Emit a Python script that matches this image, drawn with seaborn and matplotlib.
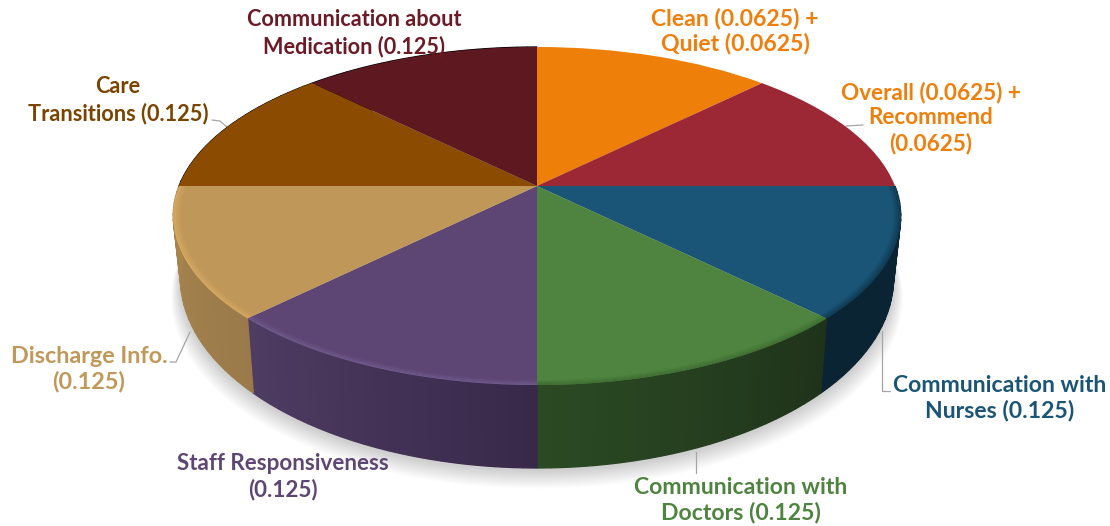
import numpy as np
import matplotlib
matplotlib.use("Agg")
import matplotlib.pyplot as plt
from matplotlib.transforms import Transform
import seaborn as sns

sns.set_theme(style="white")
plt.rcParams['font.family'] = ['Lato', 'DejaVu Sans']

# ---- data ----
segments = ["Clean + Quiet", "Overall + Recommend", "Communication with Nurses",
            "Communication with Doctors", "Staff Responsiveness", "Discharge Info.",
            "Care Transitions", "Communication about Medication"]
weights = [0.125, 0.125, 0.125, 0.125, 0.125, 0.125, 0.125, 0.125]
labels = ["Clean (0.0625) +\nQuiet (0.0625)",
          "Overall (0.0625) +\nRecommend\n(0.0625)",
          "Communication with\nNurses (0.125)",
          "Communication with\nDoctors (0.125)",
          "Staff Responsiveness\n(0.125)",
          "Discharge Info.\n(0.125)",
          "Care\nTransitions (0.125)",
          "Communication about\nMedication (0.125)"]
face_colors = ["#EE7F09", "#9C2735", "#1A5577", "#4E843F", "#5E4674", "#BF9758", "#8B4B00", "#5E181F"]
wall_left = ["#000000", "#000000", "#0A2433", "#2B4A24", "#4F3C62", "#A9864F", "#000000", "#000000"]
wall_right = ["#000000", "#000000", "#0A2433", "#1F331A", "#38294A", "#9A7A4A", "#000000", "#000000"]
rim_colors = ["#EE7F09", "#9C2735", "#0F3A52", "#3F6E33", "#6E5A8C", "#D6A860", "#8B4B00", "#5E181F"]
text_colors = ["#EF7F0A", "#EF7F0A", "#1A5577", "#4E843F", "#5E4674", "#C09859", "#7A4300", "#6B1A26"]
text_sizes = [16.6, 16.2, 16.6, 16.6, 16.1, 16.8, 15.7, 15.6]
text_pos = [(735, 31), (931, 118), (1000, 398), (741, 500), (283, 477), (89, 369), (118, 100), (354, 33)]
leaders = [None,
           [(846, 126), (863, 125)],
           [(882, 331), (882, 391), (890, 391)],
           [(696, 452), (696, 473)],
           None,
           [(170, 362), (176, 362), (190, 332)],
           [(212, 120), (220, 121), (227, 127)],
           None]

CX, CY = 537.0, 186.0
R, A, K = 358.0, 163.7, 0.1775
SX, HSLOPE, H0 = 0.98, 0.123, 58.5


def project(x, y):
    d = 1 + K * y
    return CX + R * x / d, CY - A * y / d


def bottom(px, py):
    return CX + SX * (px - CX), py + H0 + HSLOPE * (py - CY)


class Perspective(Transform):
    input_dims = output_dims = 2
    has_inverse = False

    def transform_non_affine(self, v):
        v = np.asarray(v)
        px, py = project(v[:, 0], v[:, 1])
        return np.column_stack([px, py])


fig, ax = plt.subplots(figsize=(11.10, 5.26), dpi=100)
fig.subplots_adjust(0, 0, 1, 1)
palette = sns.color_palette(face_colors)

wedges, _ = ax.pie(weights, colors=palette, startangle=90, counterclock=False, radius=1,
                   wedgeprops=dict(linewidth=0))
ax.set_aspect('auto')
ax.set_xlim(0, 1110)
ax.set_ylim(526, 0)
ax.axis('off')
tr = Perspective() + ax.transData
for w in wedges:
    w.set_transform(tr)
    w.set_zorder(5)
    w.set_clip_on(False)

# angular extents from the values
fr = np.array(weights) / np.sum(weights)
edges = 90 - 360 * np.concatenate([[0], np.cumsum(fr)])

# soft ground shadow
t = np.radians(np.linspace(0, 360, 241))
tx, ty = project(np.cos(t), np.sin(t))
bx, by = bottom(tx, ty)
for i in range(16, 0, -1):
    ax.fill(CX + (bx - CX) * (1 + i * 0.0016), by + i * 1.15 + 2, color="#404040", alpha=0.016, lw=0, zorder=1)

# side walls
for i in range(len(weights)):
    a0, a1 = edges[i], edges[i + 1]
    if a0 > 0 and a1 >= 0 or a1 >= 180:
        continue
    n = 24
    aa = np.linspace(a0, a1, n + 1)
    c0 = np.array(matplotlib.colors.to_rgb(wall_left[i]))
    c1 = np.array(matplotlib.colors.to_rgb(wall_right[i]))
    for j in range(n):
        th = np.radians(np.linspace(aa[j], aa[j + 1], 4))
        px, py = project(np.cos(th), np.sin(th))
        qx, qy = bottom(px, py)
        f = 1 - (j + .5) / n
        col = c0 * (1 - f) + c1 * f
        ax.fill(np.r_[px, qx[::-1]], np.r_[py, qy[::-1]], facecolor=col, edgecolor=col, lw=0.9,
                zorder=3 + i * 0.01 + j * 0.0001)

# bevel on the top face rim
for i in range(len(weights)):
    a0, a1 = edges[i], edges[i + 1]
    if a1 >= -1 or a0 <= -181:
        continue
    th = np.radians(np.linspace(max(a0, -360), a1, 40))
    base = np.array(matplotlib.colors.to_rgb(face_colors[i]))
    rim = np.array(matplotlib.colors.to_rgb(rim_colors[i]))
    radii = np.linspace(0.98, 1.0, 6)
    for k in range(5):
        ro, ri = radii[k + 1], radii[k]
        f = (k + 1) / 5
        col = base * (1 - f) + rim * f
        px, py = project(ro * np.cos(th), ro * np.sin(th))
        ux, uy = project(ri * np.cos(th), ri * np.sin(th))
        ax.fill(np.r_[px, ux[::-1]], np.r_[py, uy[::-1]], color=col, lw=0, zorder=6)

# labels and leader lines
for lab, col, size, pos, ld in zip(labels, text_colors, text_sizes, text_pos, leaders):
    ax.text(pos[0], pos[1], lab, color=col, ha='center', va='center', fontsize=size,
            fontweight='bold', linespacing=26 / (1.29 * size), zorder=10)
    if ld is not None:
        ax.plot([p[0] for p in ld], [p[1] for p in ld], color="#A6A6A6", lw=0.9, zorder=2)

fig.savefig("out.png", dpi=100, facecolor="white")
